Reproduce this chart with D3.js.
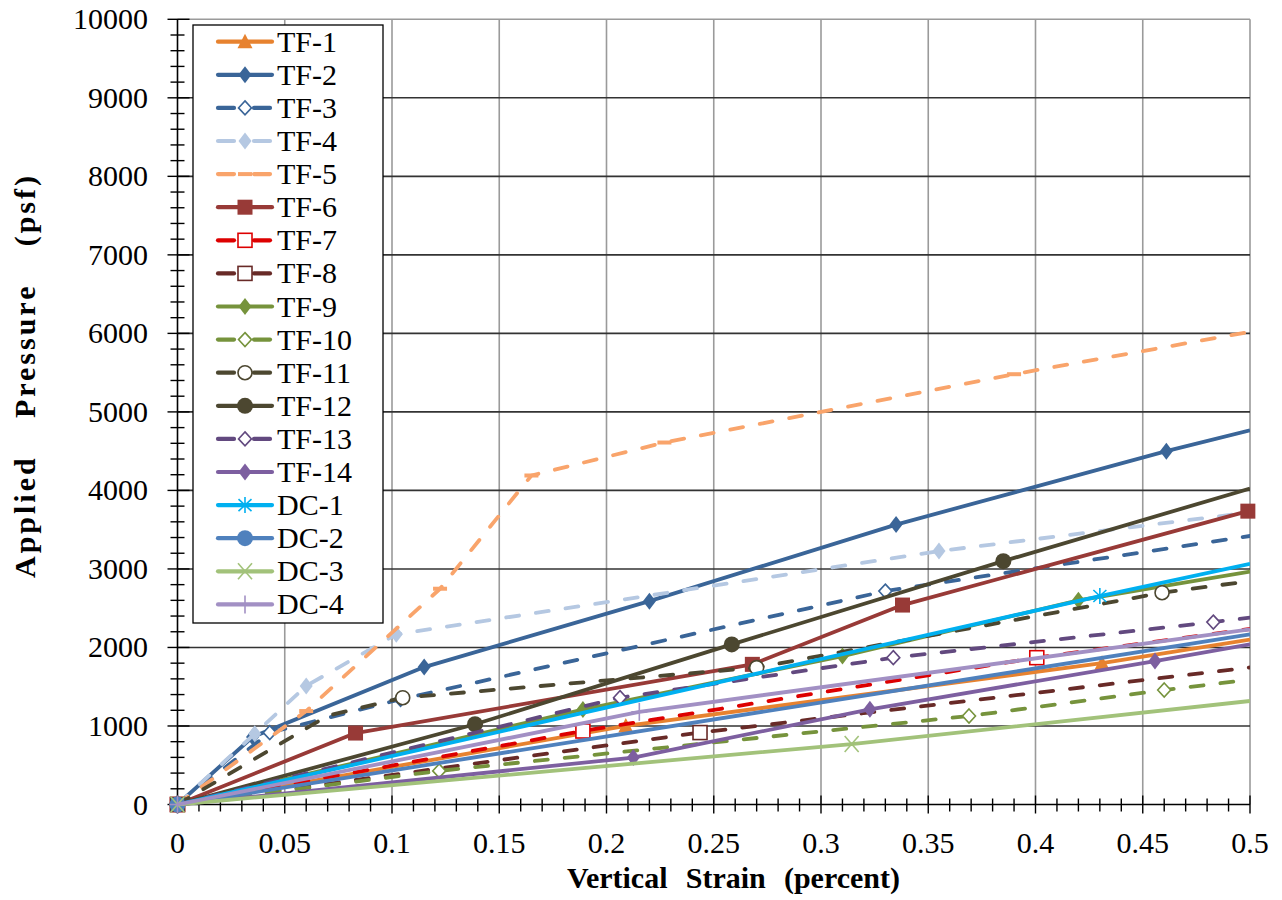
<!DOCTYPE html>
<html><head><meta charset="utf-8">
<script src="https://cdn.jsdelivr.net/npm/d3@7/dist/d3.min.js"></script>
<style>
body{margin:0;background:#fff}
svg{display:block}
text{font-family:"Liberation Serif","Times New Roman",serif;fill:#000}
</style>
</head><body>
<svg id="chart" width="1282" height="900"></svg>
<script>
// ---------- data ----------
const seriesNames = ["TF-1","TF-2","TF-3","TF-4","TF-5","TF-6","TF-7","TF-8","TF-9","TF-10","TF-11","TF-12","TF-13","TF-14","DC-1","DC-2","DC-3","DC-4"];
const xTickValues = [0,0.05,0.1,0.15,0.2,0.25,0.3,0.35,0.4,0.45,0.5];
const xTickLabels = ["0","0.05","0.1","0.15","0.2","0.25","0.3","0.35","0.4","0.45","0.5"];
const yTickValues = [0,1000,2000,3000,4000,5000,6000,7000,8000,9000,10000];
const yTickLabels = ["0","1000","2000","3000","4000","5000","6000","7000","8000","9000","10000"];
// points: [strain, pressure, hasMarker]
const tf1  = [[0,0,1],[0.209,1000,1],[0.431,1800,1],[0.5,2100,0]];
const tf2  = [[0,0,1],[0.035,860,1],[0.115,1750,1],[0.22,2590,1],[0.335,3565,1],[0.461,4500,1],[0.5,4765,0]];
const tf3  = [[0,0,1],[0.043,915,1],[0.104,1340,1],[0.33,2718,1],[0.5,3420,0]];
const tf4  = [[0,0,1],[0.036,900,1],[0.06,1510,1],[0.102,2167,1],[0.355,3227,1],[0.5,3720,0]];
const tf5  = [[0,0,1],[0.06,1190,1],[0.1224,2748,1],[0.165,4190,1],[0.227,4610,1],[0.39,5480,1],[0.5,6020,0]];
const tf6  = [[0,0,1],[0.083,910,1],[0.268,1785,1],[0.338,2540,1],[0.499,3736,1]];
const tf7  = [[0,0,1],[0.189,936,1],[0.4006,1870,1],[0.5,2235,0]];
const tf8  = [[0,0,1],[0.2436,916,1],[0.5,1745,0]];
const tf9  = [[0,0,1],[0.189,1210,1],[0.31,1890,1],[0.42,2600,1],[0.5,2965,0]];
const tf10 = [[0,0,1],[0.122,428,1],[0.369,1127,1],[0.46,1458,1],[0.5,1590,0]];
const tf11 = [[0,0,1],[0.07,1130,0],[0.105,1360,1],[0.27,1743,1],[0.459,2697,1],[0.5,2845,0]];
const tf12 = [[0,0,1],[0.1387,1022,1],[0.2584,2039,1],[0.385,3099,1],[0.5,4024,0]];
const tf13 = [[0,0,1],[0.2063,1361,1],[0.3337,1870,1],[0.4829,2323,1],[0.5,2379,0]];
const tf14 = [[0,0,1],[0.2125,598,1],[0.3228,1212,1],[0.4557,1827,1],[0.5,2039,0]];
const dc1  = [[0,0,1],[0.43,2655,1],[0.5,3066,0]];
const dc2  = [[0,0,1],[0.5,2166,0]];
const dc3  = [[0,0,1],[0.3143,770,1],[0.5,1318,0]];
const dc4  = [[0,0,1],[0.2153,1180,1],[0.5,2230,0]];
const seriesValues = [tf1,tf2,tf3,tf4,tf5,tf6,tf7,tf8,tf9,tf10,tf11,tf12,tf13,tf14,dc1,dc2,dc3,dc4];

// ---------- styles ----------
const styles = [
  {c:"#E7822F", dash:false, m:"tri"},
  {c:"#3A6598", dash:false, m:"dia"},
  {c:"#3A6598", dash:true,  m:"odia"},
  {c:"#B5C8E2", dash:true,  m:"dia"},
  {c:"#F9A46B", dash:true,  m:"dash"},
  {c:"#983A37", dash:false, m:"sq"},
  {c:"#DD0000", dash:true,  m:"osq"},
  {c:"#682A27", dash:true,  m:"osq"},
  {c:"#76933C", dash:false, m:"dia"},
  {c:"#76933C", dash:true,  m:"odia"},
  {c:"#4C4730", dash:true,  m:"ocirc"},
  {c:"#4C4730", dash:false, m:"circ"},
  {c:"#62497F", dash:true,  m:"odia"},
  {c:"#7D5FA0", dash:false, m:"dia"},
  {c:"#00B0F0", dash:false, m:"ast"},
  {c:"#4F81BD", dash:false, m:"circ"},
  {c:"#A2C27A", dash:false, m:"x"},
  {c:"#A290C4", dash:false, m:"plus"}
];

const svg = d3.select("#chart");
const x = d3.scaleLinear().domain([0,0.5]).range([177.5,1250]);
const y = d3.scaleLinear().domain([0,10000]).range([804.5,19.3]);

// gridlines
const grid = svg.append("g");
grid.selectAll("line.v").data(xTickValues.slice(1)).join("line")
  .attr("x1",d=>x(d)).attr("x2",d=>x(d)).attr("y1",y(0)).attr("y2",y(10000))
  .attr("stroke","#9a9a9a").attr("stroke-width",1.6);
grid.selectAll("line.h").data(yTickValues.slice(1)).join("line")
  .attr("x1",x(0)).attr("x2",x(0.5)).attr("y1",d=>y(d)).attr("y2",d=>y(d))
  .attr("stroke",d=>d===10000?"#9a9a9a":"#333").attr("stroke-width",1.6);

// axes
const ax = svg.append("g").attr("stroke","#000");
ax.append("line").attr("x1",x(0)).attr("x2",x(0)).attr("y1",y(0)).attr("y2",y(10000)).attr("stroke-width",1.6);
ax.append("line").attr("x1",x(0)).attr("x2",x(0.5)).attr("y1",y(0)).attr("y2",y(0)).attr("stroke-width",1.6);
const yMinor = d3.range(0,10001,200).filter(v=>v%1000!==0);
ax.selectAll("line.ym").data(yMinor).join("line")
  .attr("x1",x(0)-7).attr("x2",x(0)+7).attr("y1",d=>y(d)).attr("y2",d=>y(d)).attr("stroke-width",1.4);
ax.selectAll("line.yM").data(yTickValues).join("line")
  .attr("x1",x(0)-10).attr("x2",x(0)+12).attr("y1",d=>y(d)).attr("y2",d=>y(d)).attr("stroke-width",1.4);
const xMinor = d3.range(1,50).map(i=>i/100).filter(v=>Math.round(v*100)%5!==0);
ax.selectAll("line.xm").data(xMinor).join("line")
  .attr("x1",d=>x(d)).attr("x2",d=>x(d)).attr("y1",y(0)-6).attr("y2",y(0)+7).attr("stroke-width",1.4);
ax.selectAll("line.xM").data(xTickValues).join("line")
  .attr("x1",d=>x(d)).attr("x2",d=>x(d)).attr("y1",y(0)-9).attr("y2",y(0)+9).attr("stroke-width",1.4);

// tick labels
svg.selectAll("text.yl").data(yTickValues).join("text")
  .attr("x",148).attr("y",d=>y(d)+10).attr("text-anchor","end")
  .style("font-size","30px").text((d,i)=>yTickLabels[i]);
svg.selectAll("text.xl").data(xTickValues).join("text")
  .attr("x",d=>x(d)).attr("y",853).attr("text-anchor","middle")
  .style("font-size","30px").text((d,i)=>xTickLabels[i]);

// titles: fit to reference extents by widening word gaps
function fitWords(t, target){
  const n = t.node().getComputedTextLength();
  const gaps = (t.text().match(/ /g)||[]).length;
  if(gaps>0 && target>n) t.style("word-spacing", ((target-n)/gaps)+"px");
}
const xt = svg.append("text").attr("x",567).attr("y",888)
  .style("font-size","30px").style("font-weight","bold")
  .text("Vertical Strain (percent)");
fitWords(xt, 333);
const yt = svg.append("text").attr("transform","translate(35,578) rotate(-90)")
  .style("font-size","30px").style("font-weight","bold").style("letter-spacing","3px")
  .text("Applied Pressure (psf)");
fitWords(yt, 405);

// clip
svg.append("clipPath").attr("id","plotclip").append("rect")
  .attr("x",x(0)-2).attr("y",y(10000)).attr("width",x(0.5)-x(0)+2).attr("height",y(0)-y(10000)+2);

function drawMarker(sel, type, col, cx, cy){
  const g = sel.append("g").attr("transform",`translate(${cx},${cy})`);
  const sw = 1.6;
  switch(type){
    case "tri": g.append("path").attr("d","M0,-8L7.5,6.5L-7.5,6.5Z").attr("fill",col); break;
    case "dia": g.append("path").attr("d","M0,-8.5L6.5,0L0,8.5L-6.5,0Z").attr("fill",col); break;
    case "odia": g.append("path").attr("d","M0,-7L6.5,0L0,7L-6.5,0Z").attr("fill","#fff").attr("stroke",col).attr("stroke-width",sw); break;
    case "dash": g.append("rect").attr("x",-7).attr("y",-2).attr("width",14).attr("height",4).attr("fill",col); break;
    case "sq": g.append("rect").attr("x",-7.5).attr("y",-7.5).attr("width",15).attr("height",15).attr("fill",col); break;
    case "osq": g.append("rect").attr("x",-7).attr("y",-7).attr("width",14).attr("height",14).attr("fill","#fff").attr("stroke",col).attr("stroke-width",sw); break;
    case "ocirc": g.append("circle").attr("r",7).attr("fill","#fff").attr("stroke",col).attr("stroke-width",sw); break;
    case "circ": g.append("circle").attr("r",8).attr("fill",col); break;
    case "ast":
      [[0,-8,0,8],[-6.5,-6,6.5,6],[-6.5,6,6.5,-6]].forEach(s=>g.append("line").attr("x1",s[0]).attr("y1",s[1]).attr("x2",s[2]).attr("y2",s[3]).attr("stroke",col).attr("stroke-width",sw));
      break;
    case "x":
      [[-7,-8,7,8],[-7,8,7,-8]].forEach(s=>g.append("line").attr("x1",s[0]).attr("y1",s[1]).attr("x2",s[2]).attr("y2",s[3]).attr("stroke",col).attr("stroke-width",sw));
      break;
    case "plus":
      [[0,-9,0,9],[-8,0,8,0]].forEach(s=>g.append("line").attr("x1",s[0]).attr("y1",s[1]).attr("x2",s[2]).attr("y2",s[3]).attr("stroke",col).attr("stroke-width",sw));
      break;
  }
}

// series
const line = d3.line().x(d=>x(d[0])).y(d=>y(d[1]));
const plot = svg.append("g");
seriesValues.forEach((pts,i)=>{
  const st = styles[i];
  const g = plot.append("g");
  g.append("path").attr("d",line(pts)).attr("fill","none").attr("stroke",st.c)
    .attr("stroke-width",3.8).attr("stroke-linecap",st.dash?"round":"butt").attr("stroke-linejoin","round")
    .attr("stroke-dasharray",st.dash?"13,17":null).attr("clip-path","url(#plotclip)");
  pts.filter(p=>p[2]===1).forEach(p=>drawMarker(g, st.m, st.c, x(p[0]), y(p[1])));
});

// legend
const lg = svg.append("g");
lg.append("rect").attr("x",193).attr("y",25).attr("width",190).attr("height",598)
  .attr("fill","#fff").attr("stroke","#000").attr("stroke-width",1.3);
seriesNames.forEach((name,i)=>{
  const st = styles[i];
  const cy = 41.7 + i*33.1;
  const segs = st.dash ? [[218,234],[254,270]] : [[218,272]];
  segs.forEach(s=>lg.append("line").attr("x1",s[0]).attr("x2",s[1]).attr("y1",cy).attr("y2",cy)
    .attr("stroke",st.c).attr("stroke-width",4.2).attr("stroke-linecap","round"));
  drawMarker(lg, st.m, st.c, 245, cy);
  lg.append("text").attr("x",277).attr("y",cy+10).style("font-size","30px").text(name);
});
</script>
</body></html>
